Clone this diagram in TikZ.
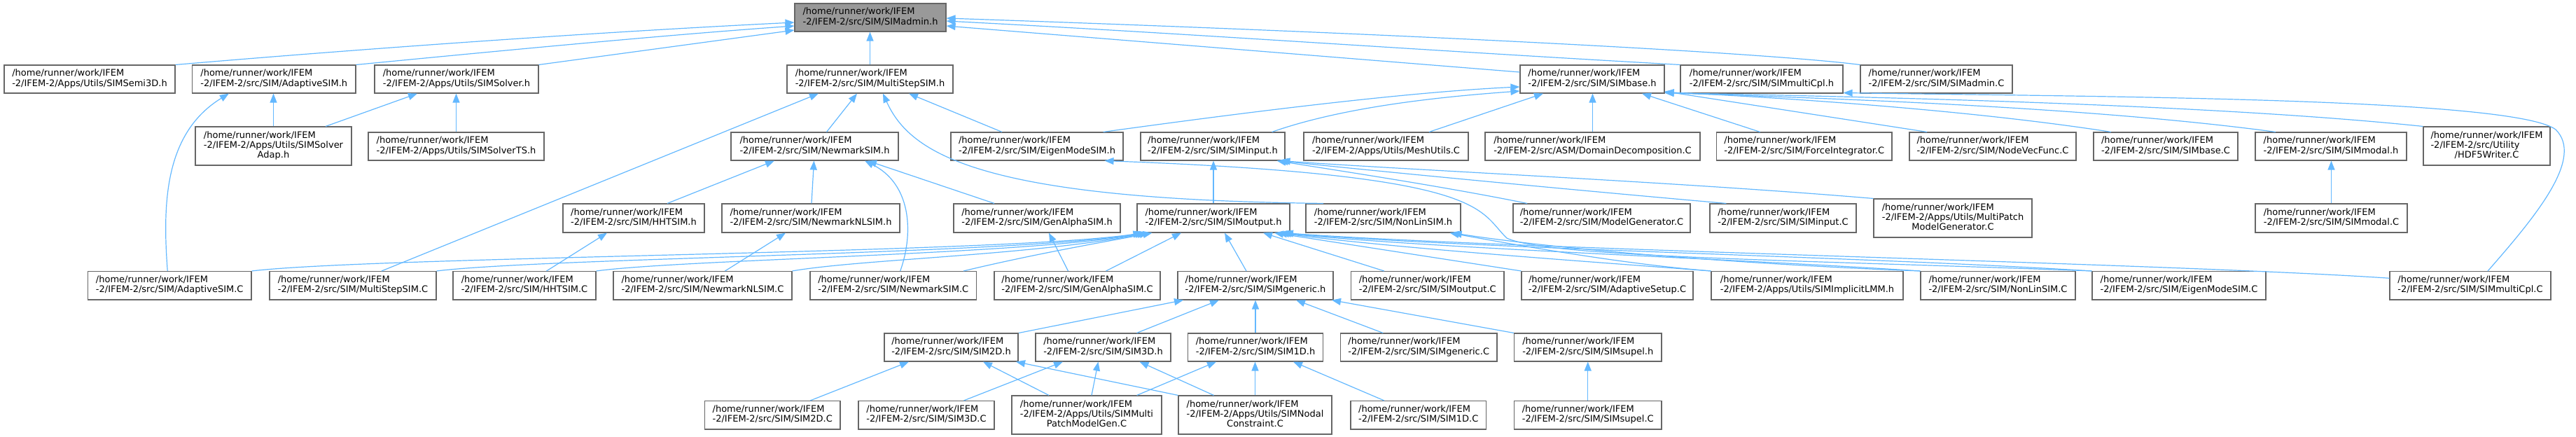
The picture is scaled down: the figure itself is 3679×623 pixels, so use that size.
\documentclass[tikz,border=0pt]{standalone}
\usepackage{fontspec}
\setmainfont{DejaVu Sans}
\usetikzlibrary{arrows.meta,calc}
\definecolor{edgec}{HTML}{63B8FF}
\definecolor{nodeb}{HTML}{666666}
\definecolor{rootf}{HTML}{999999}
\newcommand\pth{/home/runner/work/IFEM}
\newcommand\tl[1]{\begin{tabular}{@{}l@{}}\pth\\#1\end{tabular}}
\newcommand\thl[2]{\begin{tabular}{@{}l@{}}\pth\\#1\\\multicolumn{1}{@{}c@{}}{#2}\end{tabular}}
\newcommand\nd[7][]{\node[nb,#1,minimum width={(#5-#3)*0.5pt},minimum height={(#6-#4)*0.5pt}] (#2) at ({(#3+#5)/2},{(#4+#6)/2}) {#7};}
\begin{document}
\begin{tikzpicture}[x=0.5pt,y=-0.5pt,
  nb/.style={draw=nodeb,fill=white,line width=0.55pt,inner sep=0pt,font=\fontsize{6.5pt}{7.15pt}\selectfont},
  root/.style={fill=rootf},
  e/.style={draw=edgec,line width=0.6pt,-{Triangle[length=6.5pt,width=5pt]}}]
\useasboundingbox (0,0) rectangle (3679,623);
% row 0
\nd[root]{admin}{1135}{5}{1351}{45}{\tl{-2/IFEM-2/src/SIM/SIMadmin.h}}
% row 1
\nd{semi3d}{6}{93}{250}{133}{\tl{-2/IFEM-2/Apps/Utils/SIMSemi3D.h}}
\nd{adaptiveh}{274.5}{93}{508}{133}{\tl{-2/IFEM-2/src/SIM/AdaptiveSIM.h}}
\nd{solverh}{535}{93}{769}{133}{\tl{-2/IFEM-2/Apps/Utils/SIMSolver.h}}
\nd{multisteph}{1124}{93}{1361}{133}{\tl{-2/IFEM-2/src/SIM/MultiStepSIM.h}}
\nd{baseh}{2171}{93}{2377}{133}{\tl{-2/IFEM-2/src/SIM/SIMbase.h}}
\nd{multicplh}{2400}{93}{2632}{133}{\tl{-2/IFEM-2/src/SIM/SIMmultiCpl.h}}
\nd{adminC}{2657}{93}{2874}{133}{\tl{-2/IFEM-2/src/SIM/SIMadmin.C}}
% row 2
\nd{solveradap}{279}{181}{502}{236}{\thl{-2/IFEM-2/Apps/Utils/SIMSolver}{Adap.h}}
\nd{solverts}{526}{189}{777}{229}{\tl{-2/IFEM-2/Apps/Utils/SIMSolverTS.h}}
\nd{newmarkh}{1044}{189}{1283}{229}{\tl{-2/IFEM-2/src/SIM/NewmarkSIM.h}}
\nd{eigenh}{1358}{189}{1604}{229}{\tl{-2/IFEM-2/src/SIM/EigenModeSIM.h}}
\nd{inputh}{1629}{189}{1835}{229}{\tl{-2/IFEM-2/src/SIM/SIMinput.h}}
\nd{meshutils}{1862}{189}{2097}{229}{\tl{-2/IFEM-2/Apps/Utils/MeshUtils.C}}
\nd{domdec}{2121}{189}{2428}{229}{\tl{-2/IFEM-2/src/ASM/DomainDecomposition.C}}
\nd{forceint}{2451.5}{189}{2702}{229}{\tl{-2/IFEM-2/src/SIM/ForceIntegrator.C}}
\nd{nodevec}{2727}{189}{2965}{229}{\tl{-2/IFEM-2/src/SIM/NodeVecFunc.C}}
\nd{baseC}{2990}{189}{3196}{229}{\tl{-2/IFEM-2/src/SIM/SIMbase.C}}
\nd{modalh}{3221}{189}{3437}{229}{\tl{-2/IFEM-2/src/SIM/SIMmodal.h}}
\nd{hdf5}{3461}{181}{3642}{236}{\thl{-2/IFEM-2/src/Utility}{/HDF5Writer.C}}
% row 3
\nd{hhth}{804}{291}{1006}{332}{\tl{-2/IFEM-2/src/SIM/HHTSIM.h}}
\nd{newmarknlh}{1031}{291}{1285}{332}{\tl{-2/IFEM-2/src/SIM/NewmarkNLSIM.h}}
\nd{genalphah}{1362}{291}{1600}{332}{\tl{-2/IFEM-2/src/SIM/GenAlphaSIM.h}}
\nd{outputh}{1624}{291}{1842}{332}{\tl{-2/IFEM-2/src/SIM/SIMoutput.h}}
\nd{nonlinh}{1865}{291}{2086}{332}{\tl{-2/IFEM-2/src/SIM/NonLinSIM.h}}
\nd{modelgen}{2161}{291}{2414}{332}{\tl{-2/IFEM-2/src/SIM/ModelGenerator.C}}
\nd{inputC}{2442}{291}{2651}{332}{\tl{-2/IFEM-2/src/SIM/SIMinput.C}}
\nd{mpgen}{2676}{284}{2902}{339}{\thl{-2/IFEM-2/Apps/Utils/MultiPatch}{ModelGenerator.C}}
\nd{modalC}{3221}{291}{3438}{332}{\tl{-2/IFEM-2/src/SIM/SIMmodal.C}}
% row 4
\nd{adaptiveC}{125.5}{387.5}{359}{428}{\tl{-2/IFEM-2/src/SIM/AdaptiveSIM.C}}
\nd{multistepC}{385}{387.5}{623}{428}{\tl{-2/IFEM-2/src/SIM/MultiStepSIM.C}}
\nd{hhtC}{647}{387.5}{851}{428}{\tl{-2/IFEM-2/src/SIM/HHTSIM.C}}
\nd{newmarknlC}{876}{387.5}{1131}{428}{\tl{-2/IFEM-2/src/SIM/NewmarkNLSIM.C}}
\nd{newmarkC}{1157}{387.5}{1394.5}{428}{\tl{-2/IFEM-2/src/SIM/NewmarkSIM.C}}
\nd{genalphaC}{1420}{387.5}{1657}{428}{\tl{-2/IFEM-2/src/SIM/GenAlphaSIM.C}}
\nd{genericH}{1682}{387.5}{1904}{428}{\tl{-2/IFEM-2/src/SIM/SIMgeneric.h}}
\nd{outputC}{1929.5}{387.5}{2148}{428}{\tl{-2/IFEM-2/src/SIM/SIMoutput.C}}
\nd{adaptsetup}{2173}{387.5}{2418}{428}{\tl{-2/IFEM-2/src/SIM/AdaptiveSetup.C}}
\nd{implicitlmm}{2444}{387.5}{2718}{428}{\tl{-2/IFEM-2/Apps/Utils/SIMImplicitLMM.h}}
\nd{nonlinC}{2743}{387.5}{2964}{428}{\tl{-2/IFEM-2/src/SIM/NonLinSIM.C}}
\nd{eigenC}{2988}{387.5}{3236}{428}{\tl{-2/IFEM-2/src/SIM/EigenModeSIM.C}}
\nd{multicplC}{3413}{387.5}{3643}{428}{\tl{-2/IFEM-2/src/SIM/SIMmultiCpl.C}}
% row 5
\nd{sim2dh}{1263}{476}{1454}{516}{\tl{-2/IFEM-2/src/SIM/SIM2D.h}}
\nd{sim3dh}{1479}{476}{1672}{516}{\tl{-2/IFEM-2/src/SIM/SIM3D.h}}
\nd{sim1dh}{1696.5}{476}{1889.5}{516}{\tl{-2/IFEM-2/src/SIM/SIM1D.h}}
\nd{genericC}{1914.5}{476}{2138}{516}{\tl{-2/IFEM-2/src/SIM/SIMgeneric.C}}
\nd{supelh}{2162.5}{476}{2373}{516}{\tl{-2/IFEM-2/src/SIM/SIMsupel.h}}
% row 6
\nd{sim2dC}{1006.5}{572.5}{1200}{613}{\tl{-2/IFEM-2/src/SIM/SIM2D.C}}
\nd{sim3dC}{1226}{572.5}{1420}{613}{\tl{-2/IFEM-2/src/SIM/SIM3D.C}}
\nd{mpmgen}{1445}{565}{1659}{620}{\thl{-2/IFEM-2/Apps/Utils/SIMMulti}{PatchModelGen.C}}
\nd{nodalc}{1683}{565}{1902}{620}{\thl{-2/IFEM-2/Apps/Utils/SIMNodal}{Constraint.C}}
\nd{sim1dC}{1929}{572.5}{2122.5}{613}{\tl{-2/IFEM-2/src/SIM/SIM1D.C}}
\nd{supelC}{2162.5}{572.5}{2373}{613}{\tl{-2/IFEM-2/src/SIM/SIMsupel.C}}

% edges to admin
\draw[e] (semi3d.north east) .. controls (550,67) and (870,45) .. ($(admin.west)+(0,7)$);
\draw[e] (adaptiveh.north east) .. controls (720,72) and (950,50) .. ($(admin.west)+(0,12)$);
\draw[e] (solverh.north east) -- ($(admin.west)+(0,18)$);
\draw[e] (multisteph.north) -- (multisteph.north |- admin.south);
\draw[e] ($(baseh.west)+(0,-10)$) -- ($(admin.east)+(0,12)$);
\draw[e] (multicplh.north west) .. controls (2000,70) and (1700,48) .. ($(admin.east)+(0,5)$);
\draw[e] (adminC.north west) .. controls (2520,75) and (2000,48) .. ($(admin.east)+(0,1)$);
% adaptiveh, solverh
\draw[e] (solveradap.north) -- (solveradap.north |- adaptiveh.south);
\draw[e] ($(adaptiveC.north)+(-3,0)$) .. controls (232,290) and (235,190) .. ($(adaptiveh.south west)+(53,0)$);
\draw[e] ($(solveradap.north)+(74.5,0)$) -- ($(solverh.south)+(-56,0)$);
\draw[e] (solverts.north) -- (solverts.north |- solverh.south);
% multisteph
\draw[e] ($(newmarkh.north)+(17,0)$) -- ($(multisteph.south)+(-18.5,0)$);
\draw[e] ($(multistepC.north)+(41,0)$) -- ($(multisteph.south)+(-73.5,0)$);
\draw[e] ($(eigenh.north)+(-50,0)$) -- ($(multisteph.south)+(55.5,0)$);
\draw[e] ($(nonlinh.north)+(-85.5,0)$) .. controls (1400,285) and (1300,220) .. ($(multisteph.south)+(18.5,0)$);
% newmarkh
\draw[e] ($(hhth.north)+(48,0)$) -- ($(newmarkh.south)+(-57.5,0)$);
\draw[e] ($(newmarknlh.north)+(1,0)$) -- ($(newmarkh.south)+(-1,0)$);
\draw[e] ($(genalphah.north)+(-61,0)$) -- ($(newmarkh.south)+(75.5,0)$);
\draw[e] ($(newmarkC.north)+(10,0)$) .. controls (1306,330) and (1300,262) .. ($(newmarkh.south)+(71.5,0)$);
% row 3 <- row 4
\draw[e] ($(hhtC.north)+(31.5,0)$) -- ($(hhth.south)+(-38,0)$);
\draw[e] ($(newmarknlC.north)+(32,0)$) -- ($(newmarknlh.south)+(-36,0)$);
\draw[e] ($(genalphaC.north)+(-13,0)$) -- ($(genalphah.south)+(17,0)$);
% outputh
\draw[e] (adaptiveC.north east) .. controls (540,366) and (1440,362) .. ($(outputh.south west)+(8,0)$);
\draw[e] (multistepC.north east) .. controls (780,368) and (1450,363) .. ($(outputh.south west)+(11,0)$);
\draw[e] (hhtC.north east) .. controls (980,370) and (1460,364) .. ($(outputh.south west)+(14,0)$);
\draw[e] (newmarknlC.north east) .. controls (1230,370) and (1470,365) .. ($(outputh.south west)+(17,0)$);
\draw[e] ($(newmarkC.north east)+(-19,0)$) .. controls (1480,362) and (1580,345) .. ($(outputh.south west)+(22,0)$);
\draw[e] ($(genalphaC.north)+(41,0)$) -- ($(outputh.south)+(-46,0)$);
\draw[e] ($(genericH.north)+(-13,0)$) -- ($(outputh.south)+(16,0)$);
\draw[e] ($(outputC.north)+(-62,0)$) -- ($(outputh.south)+(71,0)$);
\draw[e] (adaptsetup.north west) -- ($(outputh.south)+(87,0)$);
\draw[e] (implicitlmm.north west) .. controls (2250,372) and (2000,355) .. ($(outputh.south)+(92,0)$);
\draw[e] (nonlinC.north west) .. controls (2450,368) and (2050,355) .. ($(outputh.south)+(95,0)$);
\draw[e] (eigenC.north west) .. controls (2650,366) and (2100,355) .. ($(outputh.south)+(98,0)$);
\draw[e] ($(multicplC.west)+(0,-10.5)$) .. controls (3100,376) and (2150,356) .. ($(outputh.south)+(101,0)$);
% inputh
\draw[e] (outputh.north) -- (outputh.north |- inputh.south);
\draw[e] ($(modelgen.north west)+(20.7,0)$) .. controls (2060,266) and (1920,245) .. ($(inputh.south east)+(-12,0)$);
\draw[e] ($(inputC.north west)+(24,0)$) .. controls (2300,276) and (2000,248) .. ($(inputh.south east)+(-9,0)$);
\draw[e] (mpgen.north west) .. controls (2400,260) and (2000,242) .. ($(inputh.south east)+(-6,0)$);
% nonlinh
\draw[e] (implicitlmm.north west) .. controls (2330,378) and (2200,356) .. ($(nonlinh.south east)+(-16,0)$);
\draw[e] (nonlinC.north west) .. controls (2550,380) and (2250,360) .. ($(nonlinh.south east)+(-12,0)$);
% eigenh
\draw[e] (eigenC.north west) .. controls (2600,372) and (2210,368) .. (2152,340) .. controls (2110,300) and (2130,250) .. ($(eigenh.south east)+(-27,0)$);
% genericH
\draw[e] ($(sim2dh.north)+(96.5,0)$) -- ($(genericH.south)+(-103,0)$);
\draw[e] ($(sim3dh.north)+(48,0)$) -- ($(genericH.south)+(-52,0)$);
\draw[e] (sim1dh.north) -- (sim1dh.north |- genericH.south);
\draw[e] ($(genericC.north)+(-51,0)$) -- ($(genericH.south)+(58,0)$);
\draw[e] (supelh.north west) -- ($(genericH.south)+(109,0)$);
\draw[e] (supelC.north) -- (supelC.north |- supelh.south);
% sim2dh, sim3dh, sim1dh
\draw[e] ($(sim2dC.north)+(54,0)$) -- ($(sim2dh.south)+(-60.5,0)$);
\draw[e] ($(mpmgen.north)+(-54,0)$) -- ($(sim2dh.south)+(45.5,0)$);
\draw[e] (nodalc.north west) -- ($(sim2dh.south)+(92.5,0)$);
\draw[e] ($(sim3dC.north)+(53.5,0)$) -- ($(sim3dh.south)+(-57.5,0)$);
\draw[e] ($(mpmgen.north)+(7,0)$) -- ($(sim3dh.south)+(-7,0)$);
\draw[e] ($(nodalc.north)+(-59,0)$) -- ($(sim3dh.south)+(52,0)$);
\draw[e] ($(mpmgen.north)+(71.6,0)$) -- ($(sim1dh.south)+(-56,0)$);
\draw[e] (nodalc.north) -- (nodalc.north |- sim1dh.south);
\draw[e] ($(sim1dC.north)+(-49,0)$) -- ($(sim1dh.south)+(54,0)$);
% baseh
\draw[e] ($(eigenh.north east)+(-29,0)$) .. controls (1760,163) and (2000,132) .. ($(baseh.west)+(0,11)$);
\draw[e] ($(inputh.north east)+(-19,0)$) .. controls (1920,152) and (2060,138) .. ($(baseh.west)+(0,17)$);
\draw[e] ($(meshutils.north)+(61.5,0)$) -- ($(baseh.south)+(-70,0)$);
\draw[e] (domdec.north) -- (domdec.north |- baseh.south);
\draw[e] ($(forceint.north)+(-63,0)$) -- ($(baseh.south)+(71,0)$);
\draw[e] ($(nodevec.north west)+(25.6,0)$) -- ($(baseh.south east)+(0,-3)$);
\draw[e] ($(baseC.north west)+(25.5,0)$) .. controls (2820,158) and (2560,140) .. ($(baseh.south east)+(0,-2)$);
\draw[e] ($(modalh.north west)+(29.5,0)$) .. controls (2980,152) and (2600,140) .. ($(baseh.south east)+(0,-1)$);
\draw[e] (hdf5.north west) .. controls (3150,148) and (2650,138) .. ($(baseh.south east)+(0,-1)$);
% multicplh
\draw[e] ($(multicplC.north)+(25,0)$) .. controls (3625,305) and (3690,225) .. (3650,185) .. controls (3590,140) and (3000,138) .. ($(multicplh.south east)+(0,-1)$);
% modalh
\draw[e] (modalC.north) -- (modalC.north |- modalh.south);
\end{tikzpicture}
\end{document}
